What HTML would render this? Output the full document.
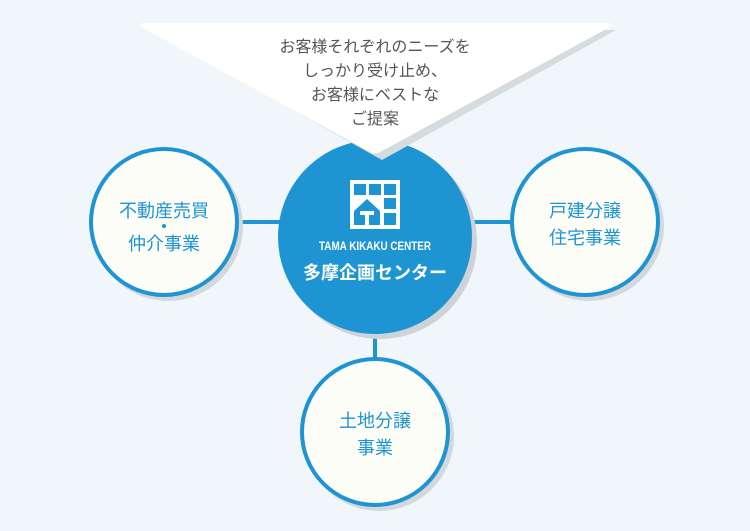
<!DOCTYPE html>
<html><head><meta charset="utf-8"><style>
html,body{margin:0;padding:0;background:#f1f6fa;}
svg{display:block}
text{font-family:"Liberation Sans","Noto Sans CJK JP",sans-serif;}
</style></head><body>
<svg width="750" height="531" viewBox="0 0 750 531" xmlns="http://www.w3.org/2000/svg">
<rect width="750" height="531" fill="#f1f6fa"/>
<line x1="238" y1="222" x2="290" y2="222" stroke="#1e94d2" stroke-width="4"/>
<line x1="460" y1="222" x2="512" y2="222" stroke="#1e94d2" stroke-width="4"/>
<line x1="375" y1="320" x2="375" y2="360" stroke="#1e94d2" stroke-width="4"/>
<circle cx="168" cy="226" r="75" fill="#d3d8dc"/>
<circle cx="589" cy="226" r="75" fill="#d3d8dc"/>
<circle cx="379" cy="436" r="75" fill="#d3d8dc"/>
<circle cx="164" cy="222" r="73" fill="#fdfdf7" stroke="#1e94d2" stroke-width="4"/>
<circle cx="585" cy="222" r="73" fill="#fdfdf7" stroke="#1e94d2" stroke-width="4"/>
<circle cx="375" cy="432" r="73" fill="#fdfdf7" stroke="#1e94d2" stroke-width="4"/>
<circle cx="380" cy="242" r="97" fill="#cdd3d6"/>
<circle cx="375" cy="237" r="97" fill="#1e94d2"/>
<path d="M150 30 L616 30 L382 160 Z" fill="#d6dbde"/>
<path d="M143 23 L609 23 Q614 24 610 27 L380 152 Q375 155 370 152 L141 27 Q138 24 143 23 Z" fill="#ffffff"/>
<g font-size="16" fill="#555" text-anchor="middle">
<text x="375" y="52">お客様それぞれのニーズを</text>
<text x="375" y="76">しっかり受け止め、</text>
<text x="375" y="100">お客様にベストな</text>
<text x="375" y="124">ご提案</text>
</g>
<rect x="350" y="180" width="50" height="49" fill="#fff"/>
<g fill="#1e94d2">
<rect x="354" y="184" width="12" height="11"/><rect x="369" y="184" width="12" height="11"/><rect x="384" y="184" width="12" height="11"/>
<rect x="384" y="198" width="12" height="11"/><rect x="384" y="213" width="12" height="12"/>
<path d="M354 211 L367 199 L380 211 L380 225 L354 225 Z"/>
</g>
<path d="M360 211 L374 211 L374 215 L369 215 L369 225 L365 225 L365 215 L360 215 Z" fill="#fff"/>
<text x="375" y="250" font-size="12" font-weight="bold" fill="#fff" text-anchor="middle" textLength="112" lengthAdjust="spacingAndGlyphs">TAMA KIKAKU CENTER</text>
<text x="375" y="279" font-size="18" font-weight="bold" fill="#fff" text-anchor="middle">多摩企画センター</text>
<g font-size="18" fill="#1e94d2" text-anchor="middle">
<text x="164" y="217">不動産売買</text>
<circle cx="164" cy="226" r="2" fill="#1e94d2"/>
<text x="164" y="250">仲介事業</text>
<text x="585" y="217">戸建分譲</text>
<text x="585" y="244">住宅事業</text>
<text x="375" y="427">土地分譲</text>
<text x="375" y="454">事業</text>
</g>
</svg>
</body></html>
